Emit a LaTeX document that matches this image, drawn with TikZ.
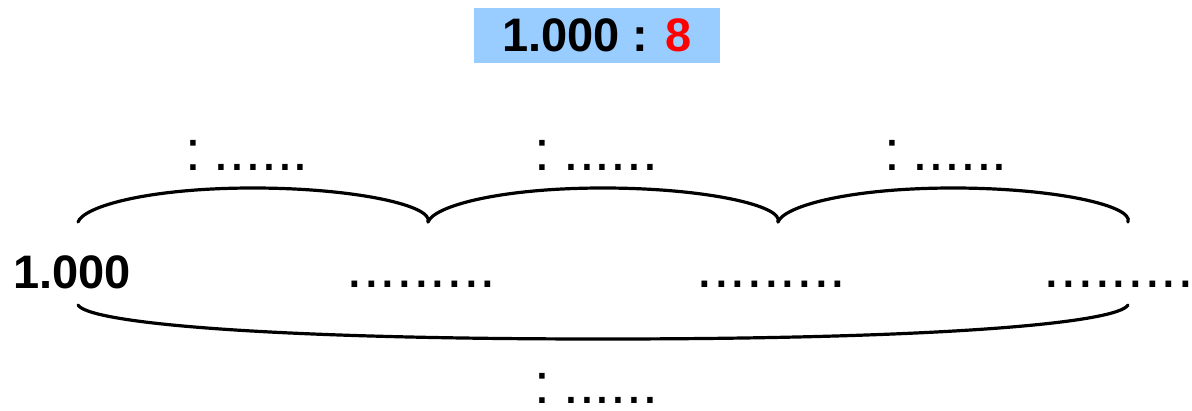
\documentclass[tikz,border=0pt]{standalone}
\usepackage{fontspec}
\setmainfont{Liberation Sans}
\usepackage{xcolor}
\usetikzlibrary{calc}
\definecolor{headblue}{RGB}{153,204,255}

\begin{document}
\begin{tikzpicture}[x=1pt,y=-1pt,
    big/.style={font=\fontsize{47}{50}\selectfont\bfseries, inner sep=0pt},
    val/.style={font=\fontsize{60}{62}\selectfont, inner sep=0pt, anchor=base},
    lbl/.style={font=\fontsize{57}{60}\selectfont, inner sep=0pt, anchor=base},
    brc/.style={line width=3.2pt, line cap=round}]
	\useasboundingbox (0,0) rectangle (1192,410);
	\node[big, fill=headblue, minimum width=246pt, minimum height=55pt] (hd) at (597,35.5) {1.000 : \textcolor{red}{8}};
	\node[big, anchor=base] (n0) at (72,288) {1.000};
	\node[val] (n1) at (421.5,287) {.........};
	\node[val] (n2) at (771.5,287) {.........};
	\node[val] (n3) at (1119,287) {.........};
	\node[lbl] (l1) at (247,170) {:\hspace{0.22em}......};
	\node[lbl] (l2) at (596.5,170) {:\hspace{0.22em}......};
	\node[lbl] (l3) at (946,170) {:\hspace{0.22em}......};
	\node[lbl] (lt) at (596.5,403) {:\hspace{0.22em}......};
	\foreach \i/\x in {0/78,1/428,2/778,3/1128}
		\coordinate (t\i) at (\x,222);
	\coordinate (b0) at (78,305);
	\coordinate (b1) at (1128,305);
	\foreach \i/\j in {0/1,1/2,2/3}
		\draw[brc] (t\i) .. controls +(6,-16) and +(-103,0) .. ($(t\i)!0.5!(t\j)+(0,-34)$)
			.. controls +(103,0) and +(6,-16) .. (t\j);
	\draw[brc] (b0) .. controls +(10,17) and +(-353,0) .. ($(b0)!0.5!(b1)+(0,34)$)
		.. controls +(353,0) and +(-10,17) .. (b1);
\end{tikzpicture}
\end{document}
